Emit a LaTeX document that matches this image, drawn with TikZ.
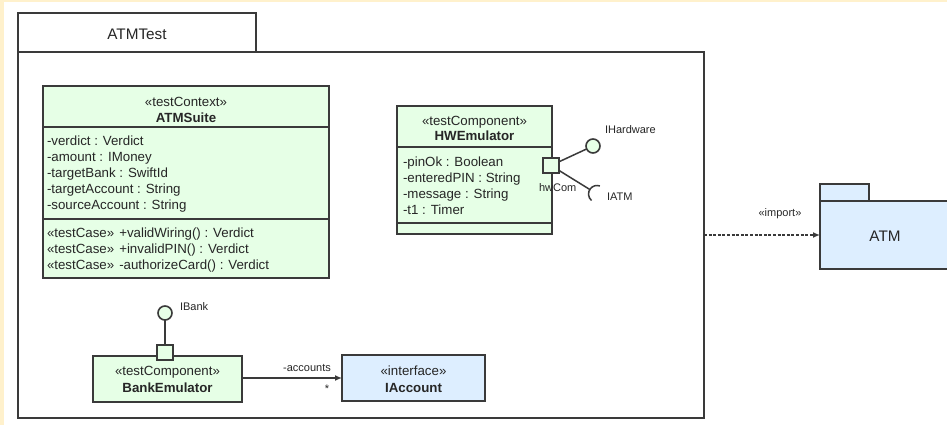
\documentclass[tikz,border=0pt]{standalone}
\usepackage{fontspec}
\setmainfont{Liberation Sans}
\usetikzlibrary{arrows.meta}
\definecolor{ink}{HTML}{262626}
\definecolor{edge}{HTML}{3A3A3A}
\definecolor{testgreen}{HTML}{E6FFE6}
\definecolor{ifblue}{HTML}{DDEEFF}
\definecolor{cream}{HTML}{FFF1CC}
\begin{document}
\begin{tikzpicture}[x=1pt,y=-1pt,
  every node/.style={text=ink, font=\fontsize{13.3}{16}\selectfont, inner sep=0pt, outer sep=0pt},
  shapebox/.style={draw=edge, line width=1.6pt, rectangle, anchor=north west},
  greenbox/.style={shapebox, fill=testgreen},
  bluebox/.style={shapebox, fill=ifblue},
  plainbox/.style={shapebox, fill=white},
  port/.style={draw=edge, line width=1.6pt, fill=testgreen, rectangle, minimum width=16pt, minimum height=15pt},
  lolly/.style={draw=edge, line width=1.6pt, fill=testgreen, circle, minimum size=14pt},
  small/.style={font=\fontsize{11}{13}\selectfont},
  pkgname/.style={font=\fontsize{15.3}{18}\selectfont},
  member/.style={anchor=base west},
  title/.style={anchor=base, font=\fontsize{13.3}{16}\bfseries\selectfont},
  stereo/.style={anchor=base},
  divider/.style={draw=edge, line width=1.6pt},
  conn/.style={draw=edge, line width=1.5pt},
  tip/.style={-{Latex[length=7pt,width=6pt]}},
  dep/.style={conn, dash pattern=on 3pt off 1.6pt, tip}
]
\useasboundingbox (0,0) rectangle (947,425);
\clip (0,0) rectangle (947,425);
\fill[cream] (0,0) rectangle (947,2);
\fill[cream] (0,0) rectangle (4,425);

% package ATMTest
\node[plainbox, minimum width=238pt, minimum height=39pt] (pkgtab) at (18,13) {};
\node[pkgname] (pkgtitle) at (137,34) {ATMTest};
\node[plainbox, minimum width=686pt, minimum height=366pt] (pkg) at (18,52) {};

% ATMSuite test context
\node[greenbox, minimum width=286pt, minimum height=192pt] (suite) at (43,86) {};
\node[stereo] (suiteSt) at (186,107) {«testContext»};
\node[title] (suiteNm) at (186,122) {ATMSuite};
\draw[divider] (suite.west |- 0,127) -- (suite.east |- 0,127);
\draw[divider] (suite.west |- 0,219) -- (suite.east |- 0,219);
\node[member] (sa1) at (47,145) {-verdict : Verdict};
\node[member] (sa2) at (47,161) {-amount : IMoney};
\node[member] (sa3) at (47,177) {-targetBank : SwiftId};
\node[member] (sa4) at (47,193) {-targetAccount : String};
\node[member] (sa5) at (47,209) {-sourceAccount : String};
\node[member] (so1) at (47,237) {«testCase»\hspace{5pt}+validWiring() : Verdict};
\node[member] (so2) at (47,253) {«testCase»\hspace{5pt}+invalidPIN() : Verdict};
\node[member] (so3) at (47,269) {«testCase»\hspace{5pt}-authorizeCard() : Verdict};

% HWEmulator test component
\node[greenbox, minimum width=155pt, minimum height=128pt] (hw) at (397,106) {};
\node[stereo] (hwSt) at (474.5,125) {«testComponent»};
\node[title] (hwNm) at (474.5,140) {HWEmulator};
\draw[divider] (hw.west |- 0,147) -- (hw.east |- 0,147);
\draw[divider] (hw.west |- 0,223) -- (hw.east |- 0,223);
\node[member] (ha1) at (403,166) {-pinOk : Boolean};
\node[member] (ha2) at (403,182) {-enteredPIN : String};
\node[member] (ha3) at (403,198) {-message : String};
\node[member] (ha4) at (403,214) {-t1 : Timer};

% port hwCom with provided and required interfaces
\node[small, anchor=base west] (hwcomlbl) at (539,191) {hwCom};
\node[port] (hwport) at (551,165.5) {};
\node[lolly] (ihw) at (593,146) {};
\node[small, anchor=base west] (ihwlbl) at (605,134) {IHardware};
\coordinate (sockc) at (597,194);
\coordinate (isock) at ([shift={(212:8.5)}]sockc);
\draw[conn] (hwport) -- (ihw);
\draw[conn] (hwport) -- (isock);
\draw[conn] ([shift={(130:8.5)}]sockc) arc[start angle=130, end angle=290, radius=8.5];
\node[small, anchor=base west] (iatmlbl) at (607,200) {IATM};

% BankEmulator and IAccount
\node[greenbox, minimum width=149pt, minimum height=46pt] (bank) at (93,356) {};
\node[stereo] (bankSt) at (167.5,375) {«testComponent»};
\node[title] (bankNm) at (167.5,392) {BankEmulator};
\node[port] (bankport) at (165,352.5) {};
\node[lolly] (ibank) at (165,313) {};
\node[small, anchor=base west] (ibanklbl) at (180,310) {IBank};
\draw[conn] (ibank) -- (bankport);

\node[bluebox, minimum width=143pt, minimum height=46pt] (iacc) at (342,355) {};
\node[stereo] (iaccSt) at (413.5,375) {«interface»};
\node[title] (iaccNm) at (413.5,392) {IAccount};
\draw[conn, tip] (bank.east |- 0,378) -- (iacc.west |- 0,378);
\node[small, anchor=base] (acclbl) at (307,371) {-accounts};
\node[small] (accmult) at (327,389) {*};

% imported package ATM
\node[shapebox, fill=ifblue, minimum width=49pt, minimum height=17pt] (atmtab) at (820,184) {};
\node[shapebox, fill=ifblue, minimum width=140pt, minimum height=68pt] (atm) at (820,201) {};
\node[pkgname] (atmlbl) at (885,236) {ATM};
\draw[dep] (pkg.east |- atm.west) -- (atm.west);
\node[small, anchor=base] (implbl) at (780,216) {«import»};
\end{tikzpicture}
\end{document}
